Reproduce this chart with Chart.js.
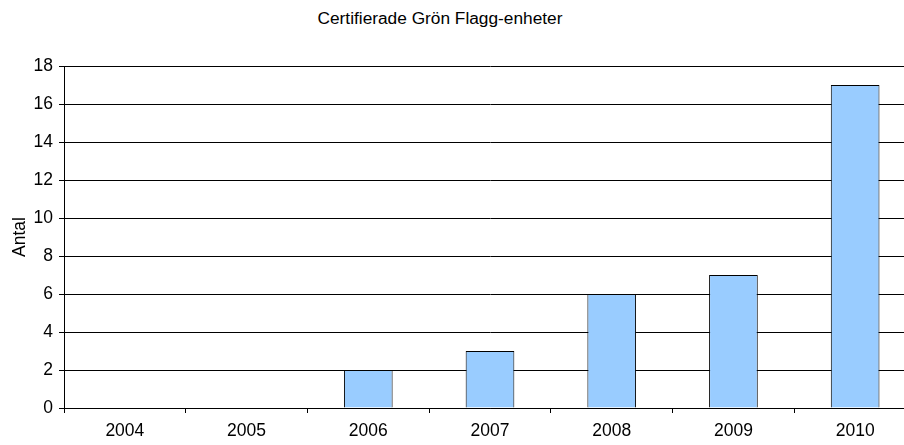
<!DOCTYPE html>
<html>
<head>
<meta charset="utf-8">
<script src="https://cdn.jsdelivr.net/npm/chart.js@4"></script>
<style>
  html, body { margin: 0; padding: 0; overflow: hidden; background: #fff; }
  #titel {
    position: absolute; left: 0; top: 10px; width: 880px;
    text-align: center; font: 17.3px "Liberation Sans", Arial, sans-serif;
    line-height: 17px; color: #000;
  }
  #wrap { position: absolute; left: 0; top: 0; }
</style>
</head>
<body>
<div id="titel">Certifierade Grön Flagg-enheter</div>
<div id="wrap"><canvas id="grafico" width="916" height="445"></canvas></div>
<script>
// Data
const ar = ['2004', '2005', '2006', '2007', '2008', '2009', '2010'];
const antal = [0, 0, 2, 3, 6, 7, 17];
const yMax = 18;
const yStep = 2;

const font = { family: '"Liberation Sans", Arial, sans-serif', size: 17.5 };

const ctx = document.getElementById('grafico').getContext('2d');
new Chart(ctx, {
    type: 'bar',
    data: {
        labels: ar,
        datasets: [{
            label: 'Antal',
            data: antal,
            backgroundColor: '#99CCFF',
            borderColor: '#000',
            borderWidth: 1,
            barPercentage: 0.4,
            categoryPercentage: 1
        }]
    },
    options: {
        responsive: false,
        animation: false,
        layout: { padding: { top: 66, left: 0, right: 0, bottom: 0 } },
        plugins: {
            legend: { display: false },
            title: { display: false },
            tooltip: { enabled: false }
        },
        scales: {
            x: {
                offset: true,
                grid: {
                    offset: true,
                    drawOnChartArea: false,
                    color: '#000',
                    tickLength: 5
                },
                border: { color: '#000', width: 1 },
                ticks: { color: '#000', font: font, padding: 8, maxRotation: 0 },
                afterFit: s => { s.height = 37; }
            },
            y: {
                min: 0,
                max: yMax,
                grid: { color: '#000', tickLength: 5 },
                border: { color: '#000', width: 1 },
                ticks: { stepSize: yStep, color: '#000', font: font, padding: 6 },
                title: {
                    display: true,
                    text: 'Antal',
                    color: '#000',
                    font: font,
                    padding: { top: 10, bottom: 0 }
                },
                afterFit: s => { s.width = 64; }
            }
        }
    }
});
</script>
</body>
</html>
